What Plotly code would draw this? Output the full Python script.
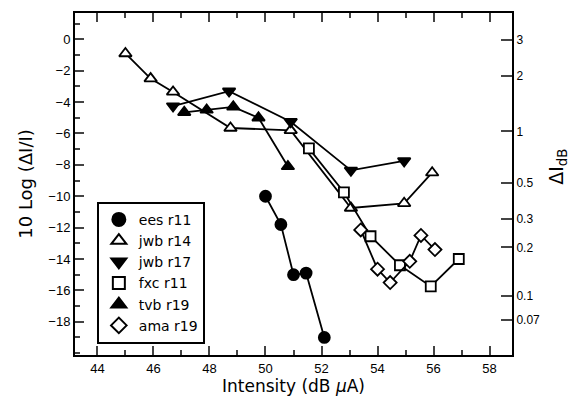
import numpy as np
import plotly.graph_objects as go

# ---- data ----
ees_x = [50.0, 50.55, 51.0, 51.45, 52.1]
ees_y = [-10.0, -11.8, -15.0, -14.9, -19.0]

jwb14_x = [45.0, 45.9, 46.7, 48.75, 50.9, 53.05, 54.95, 55.95]
jwb14_y = [-0.9, -2.5, -3.35, -5.65, -5.8, -10.75, -10.45, -8.5]

jwb17_x = [46.7, 48.7, 50.9, 53.05, 54.95]
jwb17_y = [-4.25, -3.3, -5.25, -8.35, -7.75]

fxc_x = [51.55, 52.8, 53.75, 54.8, 55.9, 56.9]
fxc_y = [-6.95, -9.75, -12.55, -14.4, -15.75, -14.0]

tvb_x = [47.1, 47.9, 48.85, 49.75, 50.8]
tvb_y = [-4.65, -4.5, -4.3, -5.0, -8.1]

ama_x = [53.4, 54.0, 54.45, 55.15, 55.55, 56.05]
ama_y = [-12.15, -14.65, -15.5, -14.15, -12.5, -13.4]

x_ticks = [44, 46, 48, 50, 52, 54, 56, 58]
y_ticks = [0, -2, -4, -6, -8, -10, -12, -14, -16, -18]
right_labels = ["3", "2", "1", "0.5", "0.3", "0.2", "0.1", "0.07"]
right_vals = [3, 2, 1, 0.5, 0.3, 0.2, 0.1, 0.07]

# name, x, y, symbol, fill, size
series = [
    ("ees r11", ees_x, ees_y, "circle", "black", 11),
    ("jwb r14", jwb14_x, jwb14_y, "triangle-up", "white", 11),
    ("jwb r17", jwb17_x, jwb17_y, "triangle-down", "black", 11),
    ("fxc r11", fxc_x, fxc_y, "square", "white", 10),
    ("tvb r19", tvb_x, tvb_y, "triangle-up", "black", 11),
    ("ama r19", ama_x, ama_y, "diamond", "white", 10),
]

FONT = "Liberation Sans, Arial, sans-serif"
TITLE_FONT = "DejaVu Sans, sans-serif"
fig = go.Figure()
for name, xs, ys, sym, fill, sz in series:
    fig.add_trace(go.Scatter(
        x=xs, y=ys, mode="lines+markers", showlegend=False,
        line=dict(color="black", width=1.8),
        marker=dict(symbol=sym, size=sz, color=fill,
                    line=dict(color="black", width=1.8)),
    ))
for name, xs, ys, sym, fill, sz in series:
    fig.add_trace(go.Scatter(
        x=[None], y=[None], mode="markers", name=name, showlegend=True,
        marker=dict(symbol=sym, size=sz + 2, color=fill,
                    line=dict(color="black", width=2)),
    ))

# right axis: Delta I_dB = 10 log10(1 + dI/I)
right_pos = [10 * np.log10(10 ** (d / 10) - 1) for d in right_vals]
fig.add_trace(go.Scatter(x=[None], y=[None], yaxis="y2", showlegend=False))

yr = [-20.12, 1.68]
fig.update_layout(
    width=572, height=398,
    margin=dict(l=75, r=60, t=13, b=43),
    paper_bgcolor="white", plot_bgcolor="white",
    font=dict(family=FONT, color="black", size=13),
    xaxis=dict(range=[43.2, 58.8], tickvals=x_ticks, ticks="inside", ticklen=9,
               tickwidth=2, showline=True, linewidth=2, linecolor="black",
               mirror="ticks", showgrid=False, zeroline=False, automargin=False,
               minor=dict(dtick=1, tick0=44, ticks="inside", ticklen=5, tickwidth=2),
               tickfont=dict(size=13)),
    yaxis=dict(range=yr, tickvals=y_ticks, ticks="inside", ticklen=9, tickwidth=2,
               showline=True, linewidth=2, linecolor="black", showgrid=False,
               zeroline=False, automargin=False,
               minor=dict(dtick=1, tick0=0, ticks="inside", ticklen=5, tickwidth=2),
               tickfont=dict(size=13)),
    yaxis2=dict(range=yr, overlaying="y", side="right", tickvals=right_pos,
                ticktext=right_labels, ticks="inside", ticklen=11, tickwidth=2,
                showline=True, linewidth=2, linecolor="black", showgrid=False,
                zeroline=False, automargin=False,
                tickfont=dict(size=12)),
    legend=dict(x=0.05, y=0.448, xanchor="left", yanchor="top",
                bordercolor="black", borderwidth=2, bgcolor="white",
                font=dict(size=14, family=TITLE_FONT),
                tracegroupgap=0, itemsizing="trace", itemwidth=30),
    annotations=[
        dict(text="10 Log (ΔI/I)", xref="paper", yref="paper", x=-0.115, y=0.5,
             xanchor="center", yanchor="middle", textangle=-90, showarrow=False,
             font=dict(size=18, family=TITLE_FONT)),
        dict(text="Intensity (dB <i>μ</i>A)", xref="paper", yref="paper", x=0.5,
             y=-0.092, xanchor="center", yanchor="middle", showarrow=False,
             font=dict(size=17, family=TITLE_FONT)),
        dict(text="ΔI<sub>dB</sub>", xref="paper", yref="paper", x=1.105, y=0.55,
             xanchor="center", yanchor="middle", textangle=-90, showarrow=False,
             font=dict(size=19, family=TITLE_FONT)),
    ],
)
fig.write_html("out.html", post_script="document.body.style.margin='0px';",
               config={"displayModeBar": False})
